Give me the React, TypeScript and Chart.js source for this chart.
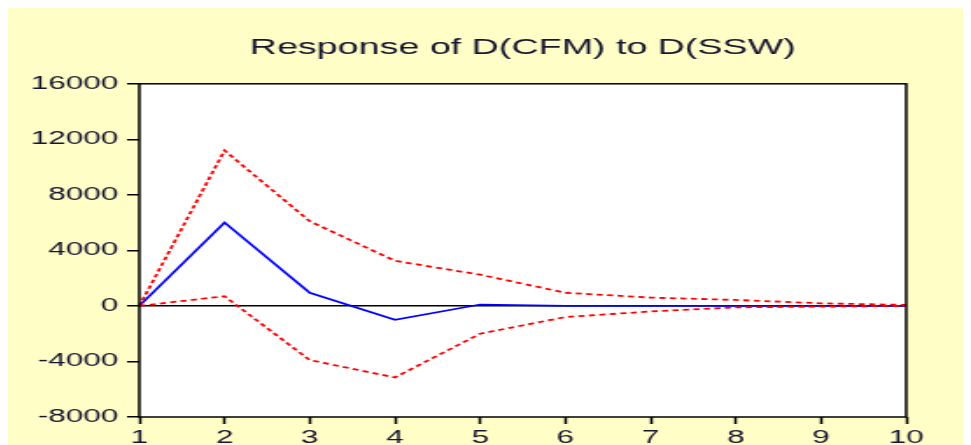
import React, { useEffect, useRef } from 'react';
import { Chart, registerables } from 'chart.js';

Chart.register(...registerables);

// ---- data ----
const periods = ['1', '2', '3', '4', '5', '6', '7', '8', '9', '10'];
const response = [0, 6000, 950, -1000, 100, 10, 0, 0, 0, 0];
const upperBand = [0, 11200, 6100, 3250, 2250, 950, 600, 430, 190, 70];
const lowerBand = [0, 700, -3900, -5150, -2000, -800, -400, -100, -50, 0];
const yMin = -8000;
const yMax = 16000;
const yStep = 4000;
const titleText = 'Response of D(CFM) to D(SSW)';

// ---- layout (canvas is drawn narrow and stretched horizontally by CSS) ----
const CANVAS_W = 550;
const CANVAS_H = 437;
const CSS_W = 963;
const FONT = "'Liberation Sans', Arial, sans-serif";
const TEXT_COLOR = '#151530';
const BG = '#FFFEC6';

export default function App() {
  const ref = useRef<HTMLCanvasElement>(null);

  useEffect(() => {
    const canvas = ref.current;
    if (!canvas) return;

    const framePlugin = {
      id: 'frame',
      beforeDraw(chart: any) {
        const { ctx, chartArea } = chart;
        ctx.save();
        ctx.fillStyle = BG;
        ctx.fillRect(0, 0, chart.width, chart.height);
        ctx.fillStyle = '#ffffff';
        ctx.fillRect(chartArea.left, chartArea.top, chartArea.right - chartArea.left, chartArea.bottom - chartArea.top);
        ctx.restore();
      },
      afterDraw(chart: any) {
        const { ctx, chartArea } = chart;
        ctx.save();
        ctx.strokeStyle = '#000';
        ctx.lineWidth = 1.5;
        ctx.strokeRect(chartArea.left, chartArea.top, chartArea.right - chartArea.left, chartArea.bottom - chartArea.top);
        ctx.restore();
      },
    };

    const chart = new Chart(canvas, {
      type: 'line',
      data: {
        labels: periods,
        datasets: [
          {
            data: upperBand,
            borderColor: '#ff0000',
            borderWidth: 1.8,
            borderDash: [3.5, 2.5],
            pointRadius: 0,
            tension: 0,
            fill: false,
          },
          {
            data: lowerBand,
            borderColor: '#ff0000',
            borderWidth: 1.8,
            borderDash: [3.5, 2.5],
            pointRadius: 0,
            tension: 0,
            fill: false,
          },
          {
            data: response,
            borderColor: '#0000ff',
            borderWidth: 1.7,
            pointRadius: 0,
            tension: 0,
            fill: false,
          },
        ],
      },
      options: {
        responsive: false,
        animation: false,
        devicePixelRatio: 1,
        layout: { padding: { left: 0, right: 37, top: 0, bottom: 0 } },
        plugins: {
          legend: { display: false },
          tooltip: { enabled: false },
          title: {
            display: true,
            text: titleText,
            fullSize: false,
            color: TEXT_COLOR,
            font: { family: FONT, size: 21.5, weight: 'normal', lineHeight: 1.2 },
            padding: { top: 27, bottom: 23 },
          },
        },
        scales: {
          x: {
            type: 'category',
            offset: false,
            grid: {
              display: true,
              drawOnChartArea: false,
              drawTicks: true,
              tickLength: 7,
              tickColor: '#000',
              tickWidth: 1.5,
            },
            border: { display: false },
            ticks: {
              color: TEXT_COLOR,
              font: { family: FONT, size: 18 },
              padding: 3,
              autoSkip: false,
              maxRotation: 0,
            },
            afterFit(scale: any) {
              scale.height = 28;
            },
          },
          y: {
            type: 'linear',
            min: yMin,
            max: yMax,
            grid: {
              display: true,
              drawOnChartArea: true,
              drawTicks: true,
              tickLength: 7,
              tickColor: '#000',
              tickWidth: 1.5,
              lineWidth: 1.5,
              color: (c: any) => (c.tick && c.tick.value === 0 ? '#000' : 'rgba(0,0,0,0)'),
            },
            border: { display: false },
            ticks: {
              stepSize: yStep,
              color: TEXT_COLOR,
              font: { family: FONT, size: 18 },
              padding: 5,
              callback: (v: any) => String(v),
            },
            afterFit(scale: any) {
              scale.width = 75;
            },
          },
        },
      },
      plugins: [framePlugin],
    } as any);

    return () => chart.destroy();
  }, []);

  return (
    <canvas
      ref={ref}
      width={CANVAS_W}
      height={CANVAS_H}
      style={{ display: 'block', width: CSS_W + 'px', height: CANVAS_H + 'px' }}
    />
  );
}
